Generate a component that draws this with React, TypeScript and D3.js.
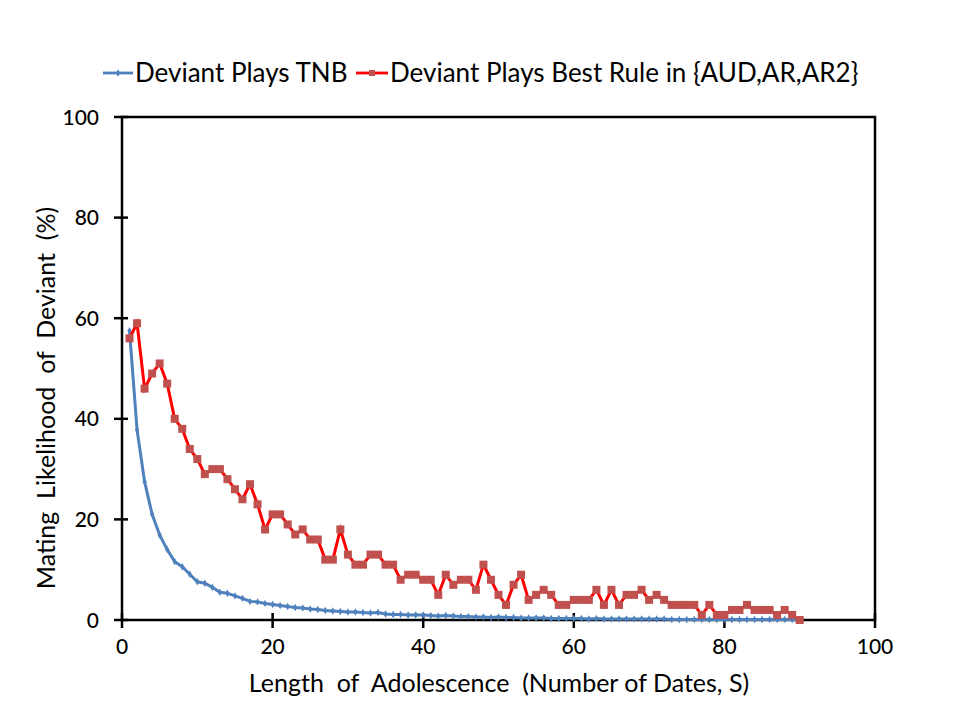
import React from 'react';
import * as d3 from 'd3';

// length of adolescence, 1..90 dates
const dates = d3.range(1, 91);

const tnb = [
  57.5, 37.8, 27.5, 21, 16.9, 14, 11.6, 10.6, 9.1, 7.6,
  7.3, 6.5, 5.5, 5.3, 4.8, 4.3, 3.7, 3.6, 3.3, 3.1,
  2.9, 2.7, 2.5, 2.4, 2.2, 2.1, 1.9, 1.8, 1.7, 1.6,
  1.6, 1.5, 1.4, 1.5, 1.2, 1.1, 1.1, 1.0, 1.0, 1.0,
  0.9, 0.8, 0.9, 0.8, 0.7, 0.7, 0.6, 0.6, 0.5, 0.6,
  0.5, 0.5, 0.4, 0.4, 0.4, 0.4, 0.3, 0.3, 0.3, 0.3,
  0.3, 0.2, 0.3, 0.2, 0.2, 0.2, 0.2, 0.2, 0.2, 0.2,
  0.2, 0.2, 0.1, 0.1, 0.1, 0.1, 0.1, 0.1, 0.1, 0.1,
  0.1, 0.1, 0.1, 0.1, 0.1, 0.1, 0.1, 0.1, 0.1, 0.0,
];

const bestRule = [
  56, 59, 46, 49, 51, 47, 40, 38, 34, 32,
  29, 30, 30, 28, 26, 24, 27, 23, 18, 21,
  21, 19, 17, 18, 16, 16, 12, 12, 18, 13,
  11, 11, 13, 13, 11, 11, 8, 9, 9, 8,
  8, 5, 9, 7, 8, 8, 6, 11, 8, 5,
  3, 7, 9, 4, 5, 6, 5, 3, 3, 4,
  4, 4, 6, 3, 6, 3, 5, 5, 6, 4,
  5, 4, 3, 3, 3, 3, 1, 3, 1, 1,
  2, 2, 3, 2, 2, 2, 1, 2, 1, 0,
];

const xTicks = [0, 20, 40, 60, 80, 100];
const yTicks = [0, 20, 40, 60, 80, 100];

const seriesNames = ['Deviant Plays TNB', 'Deviant Plays Best Rule in {AUD,AR,AR2}'];
const xTitle = 'Length  of  Adolescence  (Number of Dates, S)';
const yTitle = 'Mating  Likelihood  of  Deviant  (%)';

const font = 'Lato, "Open Sans", sans-serif';

export default function App() {
  const W = 960, H = 720;
  const left = 122, right = 875, top = 117, bottom = 620;

  const x = d3.scaleLinear().domain([0, 100]).range([left, right]);
  const y = d3.scaleLinear().domain([0, 100]).range([bottom, top]);

  const line = d3.line<number>()
    .x((d, i) => x(dates[i]))
    .y(d => y(d));

  const blue = '#4f81bd';
  const red = '#ff0000';
  const redMark = '#c0504d';
  const diamond = d3.symbol(d3.symbolDiamond, 16)()!;

  return (
    <svg width={W} height={H} style={{ display: 'block', margin: -8 }}>
      <rect width={W} height={H} fill="#fff" />

      {/* legend */}
      <g fontFamily={font} fontSize={26} fill="#000">
        <line x1={103} x2={133} y1={73} y2={73} stroke={blue} strokeWidth={2.8} />
        <path d={diamond} transform="translate(118,73)" fill={blue} />
        <text x={135} y={82}>{seriesNames[0]}</text>
        <line x1={356} x2={388} y1={73} y2={73} stroke={red} strokeWidth={2.8} />
        <rect x={369} y={70} width={6} height={6} fill={redMark} />
        <text x={390} y={82}>{seriesNames[1]}</text>
      </g>

      {/* frame */}
      <rect x={left} y={top} width={right - left} height={bottom - top}
        fill="none" stroke="#000" strokeWidth={2.5} />

      {/* ticks */}
      <g fontFamily={font} fontSize={21} fontWeight={500} fill="#000">
        {yTicks.map(t => (
          <g key={'y' + t}>
            <line x1={left - 8} x2={left + 6} y1={y(t)} y2={y(t)} stroke="#000" strokeWidth={2.5} />
            <text x={99} y={y(t) + 7.5} textAnchor="end">{t}</text>
          </g>
        ))}
        {xTicks.map(t => (
          <g key={'x' + t}>
            <line x1={x(t)} x2={x(t)} y1={bottom - 7} y2={bottom + 8} stroke="#000" strokeWidth={2.5} />
            <text x={x(t)} y={654} textAnchor="middle">{t}</text>
          </g>
        ))}
      </g>

      {/* series */}
      <path d={line(tnb)!} fill="none" stroke={blue} strokeWidth={3} />
      {tnb.map((v, i) => (
        <path key={'b' + i} d={diamond}
          transform={`translate(${x(dates[i])},${y(v)})`} fill={blue} />
      ))}
      <path d={line(bestRule)!} fill="none" stroke={red} strokeWidth={3} />
      {bestRule.map((v, i) => (
        <rect key={'r' + i} x={x(dates[i]) - 4} y={y(v) - 4} width={8} height={8} fill={redMark} />
      ))}

      {/* axis titles */}
      <text x={499} y={692} textAnchor="middle" fontFamily={font} fontSize={25}
        style={{ whiteSpace: 'pre' }}>
        {xTitle}
      </text>
      <text transform="translate(55,398) rotate(-90)" textAnchor="middle"
        fontFamily={font} fontSize={25} style={{ whiteSpace: 'pre' }}>
        {yTitle}
      </text>
    </svg>
  );
}
